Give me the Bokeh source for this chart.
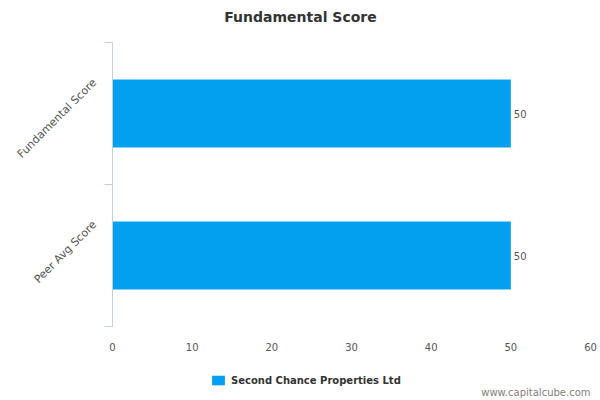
import math
from bokeh.plotting import figure
from bokeh.layouts import column
from bokeh.models import (ColumnDataSource, LabelSet, Label, Legend, LegendItem,
                          LinearAxis, FixedTicker, Range1d)
from bokeh.core.properties import value
from bokeh.embed import file_html
from bokeh.resources import INLINE

# data
categories = ["Fundamental Score", "Peer Avg Score"]
scores = [50, 50]
x_ticks = [0, 10, 20, 30, 40, 50, 60]
series_name = "Second Chance Properties Ltd"
title_text = "Fundamental Score"
credit = "www.capitalcube.com"

BAR = "#02a1f0"
AXIS = "#c0d0e0"
TXT = "#555555"
FONT = "DejaVu Sans"

n = len(categories)
# first category on top
ypos = [n - i - 0.5 for i in range(n)]
# rotated labels are anchored at their end; lift them so they sit centred
label_lift = 0.23
label_pos = [y + label_lift for y in ypos]

src = ColumnDataSource(data=dict(y=ypos, score=scores,
                                 label=[str(s) for s in scores]))


def strip(height):
    # plain band above/below the chart; its frame lines up with the chart's
    f = figure(width=600, height=height, output_backend="svg", toolbar_location=None,
               x_range=Range1d(0, 1), y_range=Range1d(0, 1),
               x_axis_location=None, y_axis_location=None, min_border=0)
    f.title = None
    f.outline_line_color = None
    f.xgrid.visible = False
    f.ygrid.visible = False
    return f


# header with the title, centred on the page
head = strip(42)
head.add_layout(Label(x=188, y=26, x_units="screen", y_units="screen",
                      text=title_text, text_align="center", text_baseline="middle",
                      text_font=FONT, text_font_size="14px", text_font_style="bold",
                      text_color="#333333"))

p = figure(width=600, height=314, output_backend="svg", toolbar_location=None,
           x_range=Range1d(0, 60), y_range=Range1d(0, n),
           y_axis_location=None, x_axis_location=None,
           min_border_left=112, min_border_right=10,
           min_border_top=0, min_border_bottom=30)
p.title = None
p.outline_line_color = None
p.xgrid.visible = False
p.ygrid.visible = False

p.hbar(y="y", right="score", left=0, height=0.48, source=src,
       fill_color=BAR, line_color=None)

# value labels at bar ends
p.add_layout(LabelSet(x="score", y="y", text="label", source=src, x_offset=3,
                      text_baseline="middle", text_font_size="10px",
                      text_color=TXT, text_font=value(FONT)))

# y axis: labels near centres, ticks at category boundaries
yax = LinearAxis(ticker=FixedTicker(ticks=label_pos, minor_ticks=list(range(n + 1))))
yax.major_label_overrides = {y: c for y, c in zip(label_pos, categories)}
yax.major_label_orientation = math.pi / 4
yax.major_tick_out = 0
yax.major_tick_in = 0
yax.minor_tick_out = 8
yax.minor_tick_in = 0
yax.minor_tick_line_color = AXIS
yax.axis_line_color = AXIS
yax.major_label_text_font = FONT
yax.major_label_text_font_size = "11px"
yax.major_label_text_color = TXT
yax.major_label_standoff = 10
p.add_layout(yax, "left")

xax = LinearAxis(ticker=FixedTicker(ticks=x_ticks))
xax.axis_line_color = None
xax.major_tick_line_color = None
xax.minor_tick_line_color = None
xax.major_label_text_font = FONT
xax.major_label_text_font_size = "10px"
xax.major_label_text_color = TXT
xax.major_label_standoff = 10
p.add_layout(xax, "below")

# footer with legend and credit line
foot = strip(44)
# legend key only: one row kept outside the visible range
key = foot.hbar(y=[-1], right=[0], left=0, height=1, fill_color=BAR, line_color=None)

legend = Legend(items=[LegendItem(label=series_name, renderers=[key], index=0)],
                location=(98, 14), orientation="horizontal",
                glyph_width=16, glyph_height=12, label_height=12,
                label_standoff=5, padding=0, margin=0,
                border_line_color=None, background_fill_alpha=0,
                label_text_font=FONT, label_text_font_size="10px",
                label_text_font_style="bold", label_text_color="#333333")
foot.add_layout(legend, "center")

foot.add_layout(Label(x=478, y=8, x_units="screen", y_units="screen",
                      text=credit, text_align="right", text_baseline="middle",
                      text_font=FONT, text_font_size="10px", text_color="#808080"))

open("out.html", "w").write(file_html(column(head, p, foot), INLINE))
